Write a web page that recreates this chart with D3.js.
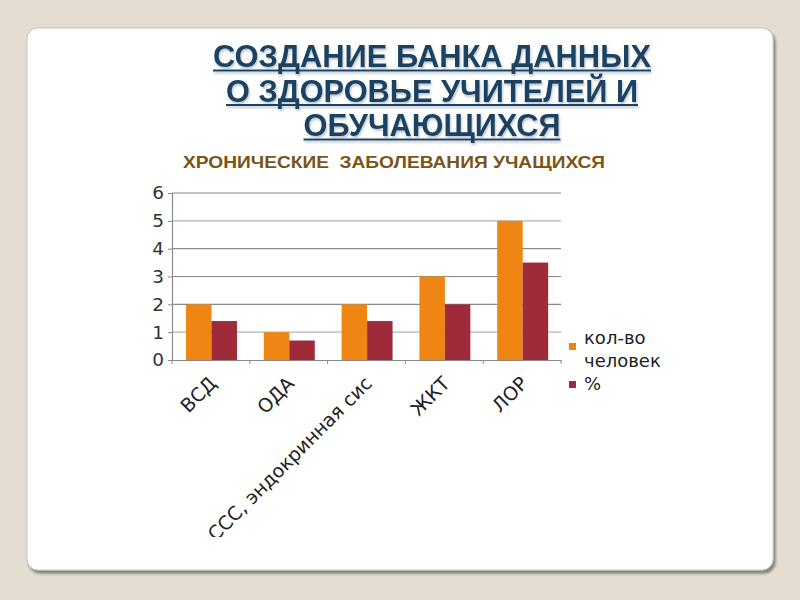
<!DOCTYPE html>
<html><head><meta charset="utf-8">
<script src="https://cdn.jsdelivr.net/npm/d3@7"></script>
<style>
html,body{margin:0;padding:0;background:#e3ddd2;}
svg{display:block;}
</style></head>
<body>
<svg id="c" width="800" height="600"></svg>
<script>
const categories = ["ВСД", "ОДА", "ССС, эндокринная сис", "ЖКТ", "ЛОР"];
const countValues = [2, 1, 2, 3, 5];
const percentValues = [1.4, 0.7, 1.4, 2, 3.5];
const seriesNames = ["кол-во человек", "%"];
const yTicks = [0, 1, 2, 3, 4, 5, 6];
const titleLines = ["СОЗДАНИЕ БАНКА ДАННЫХ", "О ЗДОРОВЬЕ УЧИТЕЛЕЙ И", "ОБУЧАЮЩИХСЯ"];
const subtitle = "ХРОНИЧЕСКИЕ  ЗАБОЛЕВАНИЯ УЧАЩИХСЯ";

(function(){
const colors = ["#ef8512", "#9f2a3a"];
const svg = d3.select("#c");

// page and card
const defs = svg.append("defs");
const f = defs.append("filter").attr("id","sh").attr("x","-5%").attr("y","-5%").attr("width","110%").attr("height","110%");
f.append("feGaussianBlur").attr("in","SourceAlpha").attr("stdDeviation",1.5);
f.append("feOffset").attr("dx",2).attr("dy",3).attr("result","ob");
f.append("feComponentTransfer").append("feFuncA").attr("type","linear").attr("slope",0.45);
const fm = f.append("feMerge"); fm.append("feMergeNode"); fm.append("feMergeNode").attr("in","SourceGraphic");
defs.append("filter").attr("id","tsh").attr("x","-5%").attr("y","-20%").attr("width","110%").attr("height","150%")
  .append("feDropShadow").attr("dx",1).attr("dy",2).attr("stdDeviation",0.8)
  .attr("flood-color","#8aa0b4").attr("flood-opacity",0.6);

svg.append("rect").attr("width",800).attr("height",600).attr("fill","#e3ddd2");
svg.append("rect").attr("x",27).attr("y",28).attr("width",746).attr("height",542).attr("rx",11)
  .attr("fill","#fff").attr("stroke","#c9c6c0").attr("stroke-width",1).attr("filter","url(#sh)");

// titles
const titleWidths = [438, 412, 257];
const tfont = "'Liberation Sans Narrow','Liberation Sans',Arial,sans-serif";
const tg = svg.append("g").attr("filter","url(#tsh)");
titleLines.forEach((t,i)=>{
  const cx = 432, by = 67 + i*34.5;
  tg.append("text").attr("x",cx).attr("y",by).attr("text-anchor","middle")
    .attr("font-family",tfont).attr("font-weight","bold")
    .attr("font-size",32).attr("fill","#1b4262").attr("textLength",titleWidths[i]).attr("lengthAdjust","spacingAndGlyphs").text(t);
  tg.append("line").attr("x1",cx-titleWidths[i]/2).attr("x2",cx+titleWidths[i]/2).attr("y1",by+3.5).attr("y2",by+3.5)
    .attr("stroke","#1b4262").attr("stroke-width",2);
});
svg.append("text").attr("x",394).attr("y",168).attr("text-anchor","middle")
  .attr("font-family","'Liberation Sans',Arial,sans-serif").attr("font-weight","bold").attr("font-size",16.5)
  .attr("fill","#7a5418").attr("textLength",422).attr("lengthAdjust","spacingAndGlyphs")
  .style("white-space","pre").text(subtitle);

// chart
const pLeft = 172, pRight = 561, pTop = 193, pBottom = 360;
const x0 = d3.scaleBand().domain(categories).range([pLeft, pRight]).padding(0);
const x1 = d3.scaleBand().domain(seriesNames).range([x0.bandwidth()*0.18, x0.bandwidth()*0.835]).padding(0);
const y = d3.scaleLinear().domain([0, 6]).range([pBottom, pTop]);
const font = "'DejaVu Sans',Verdana,sans-serif";

const g = svg.append("g");
g.selectAll("line.grid").data(yTicks.filter(d=>d>0)).join("line").attr("class","grid")
  .attr("x1",pLeft).attr("x2",pRight).attr("y1",d=>y(d)).attr("y2",d=>y(d))
  .attr("stroke",d=> (d===1||d===5)?"#b4b4b4":"#8a8a8a").attr("stroke-width",1.2);

const data = categories.map((c,i)=>({c, vals:[countValues[i], percentValues[i]]}));
const grp = g.selectAll("g.cat").data(data).join("g").attr("class","cat").attr("transform",d=>`translate(${x0(d.c)},0)`);
grp.selectAll("rect").data(d=>d.vals.map((v,j)=>({v, s:seriesNames[j], j}))).join("rect")
  .attr("x",d=>x1(d.s)).attr("width",x1.bandwidth())
  .attr("y",d=>y(d.v)).attr("height",d=>y(0)-y(d.v)).attr("fill",d=>colors[d.j]);

// y axis
const ya = g.append("g").attr("transform",`translate(${pLeft},0)`)
  .call(d3.axisLeft(y).tickValues(yTicks).tickSize(4).tickPadding(4).tickFormat(d3.format("d")));
ya.select(".domain").attr("stroke","#8a8a8a").attr("stroke-width",1.2);
ya.selectAll(".tick line").attr("stroke","#8a8a8a");
ya.selectAll("text").attr("font-family",font).attr("font-size",18.5).attr("fill","#333");

// x axis
const xa = g.append("g").attr("transform",`translate(0,${pBottom})`)
  .call(d3.axisBottom(x0).tickSize(0).tickFormat(""));
xa.select(".domain").attr("stroke","#8a8a8a").attr("stroke-width",1.2);
const bounds = categories.map(c=>x0(c)).concat([pRight]);
xa.selectAll("line.sep").data(bounds).join("line").attr("class","sep")
  .attr("x1",d=>d).attr("x2",d=>d).attr("y1",0).attr("y2",4).attr("stroke","#8a8a8a");

defs.append("clipPath").attr("id","lc").append("rect").attr("x",0).attr("y",366).attr("width",800).attr("height",171);
const lab = g.append("g").attr("clip-path","url(#lc)");
lab.selectAll("text").data(categories).join("text")
  .attr("transform",d=>`translate(${x0(d)+x0.bandwidth()/2+2},${pBottom+20}) rotate(-45)`)
  .attr("text-anchor","end").attr("dy","0.35em")
  .attr("font-family",font).attr("font-size",19).attr("fill","#222").text(d=>d);

// legend
const lg = svg.append("g").attr("font-family",font).attr("font-size",18).attr("fill","#222");
lg.append("rect").attr("x",569).attr("y",343).attr("width",7).attr("height",7).attr("fill",colors[0]);
lg.append("text").attr("x",584).attr("y",344).text("кол-во");
lg.append("text").attr("x",584).attr("y",367).text("человек");
lg.append("rect").attr("x",569).attr("y",381).attr("width",7).attr("height",7).attr("fill",colors[1]);
lg.append("text").attr("x",584).attr("y",390).text(seriesNames[1]);
})();
</script>
</body></html>
